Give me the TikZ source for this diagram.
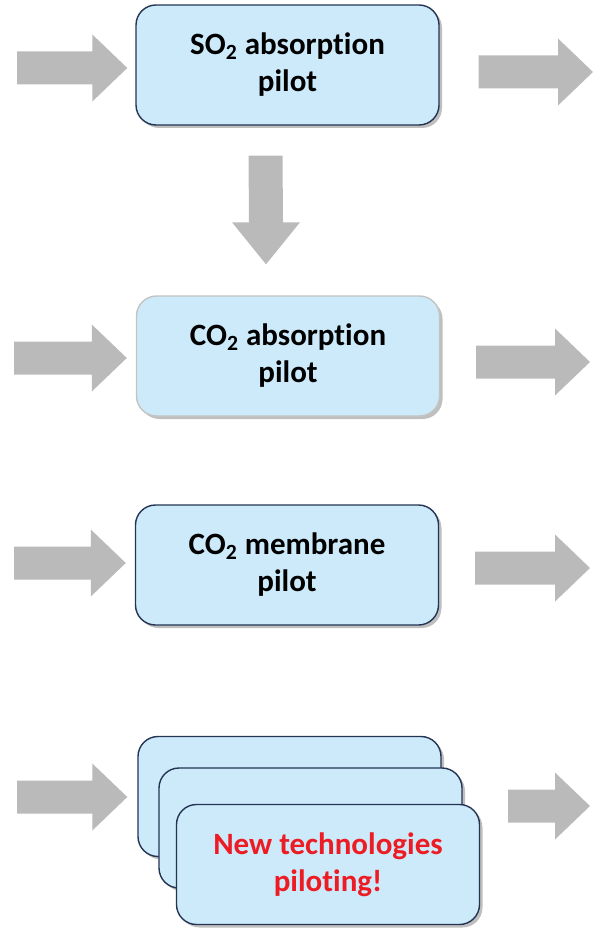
\documentclass[tikz,border=0pt]{standalone}
\usepackage{fontspec}
\setmainfont{Carlito}[Ligatures=NoCommon]
\usetikzlibrary{positioning,shadows}
\definecolor{boxfill}{RGB}{204,234,249}
\definecolor{boxline}{RGB}{36,52,82}
\definecolor{paleline}{RGB}{196,196,196}
\definecolor{arrowgray}{RGB}{186,186,186}
\definecolor{newred}{RGB}{237,28,36}

\begin{document}
\begin{tikzpicture}[
    x=0.5pt, y=-0.5pt,
    pilotbox/.style={rectangle, draw=boxline, line width=0.7pt, fill=boxfill, rounded corners=10pt,
        minimum width=151.5pt, minimum height=60pt, align=center,
        font=\bfseries\fontsize{15.5}{18.5}\selectfont,
        drop shadow={shadow xshift=1.5pt, shadow yshift=-1.5pt, fill=black, opacity=0.25}},
    % block arrows as one filled outline from tail to tip
    rightblock/.style={fill=arrowgray, to path={
        ([yshift=8.25pt]\tikztostart) -- ([xshift=-17.5pt, yshift=8.25pt]\tikztotarget)
        -- ([xshift=-17.5pt, yshift=16.75pt]\tikztotarget) -- (\tikztotarget)
        -- ([xshift=-17.5pt, yshift=-16.75pt]\tikztotarget) -- ([xshift=-17.5pt, yshift=-8.25pt]\tikztotarget)
        -- ([yshift=-8.25pt]\tikztostart) -- cycle}},
    downblock/.style={fill=arrowgray, to path={
        ([xshift=-8.5pt]\tikztostart) -- ([xshift=-8.5pt, yshift=21pt]\tikztotarget)
        -- ([xshift=-17pt, yshift=21pt]\tikztotarget) -- (\tikztotarget)
        -- ([xshift=17pt, yshift=21pt]\tikztotarget) -- ([xshift=8.5pt, yshift=21pt]\tikztotarget)
        -- ([xshift=8.5pt]\tikztostart) -- cycle}}
]
\useasboundingbox (0,0) rectangle (597,930);

% Pilot boxes (one column)
\node[pilotbox] (so2) at (287.5,65) {SO\textsubscript{2} absorption\\pilot};
\node[pilotbox, draw=paleline] (co2abs) at (288,356) {CO\textsubscript{2} absorption\\pilot};
\node[pilotbox] (co2mem) at (287,565) {CO\textsubscript{2} membrane\\pilot};

% Stack of new pilots (back to front)
\node[pilotbox] (new0) at (289.5,796.5) {};
\node[pilotbox] (new1) at (310.5,828) {};
\node[pilotbox, text=newred] (new2) at (328,864.5) {New technologies\\piloting!};

% Free ends of the flow arrows
\coordinate (in1) at (17,68);
\coordinate (out1) at (593,72);
\coordinate (in2) at (14,358);
\coordinate (out2) at (590,362);
\coordinate (in3) at (14,563);
\coordinate (out3) at (590,568);
\coordinate (in4) at (17,797);
\coordinate (out4) at (590,806);

% Ends next to the boxes
\coordinate (so2in) at ([xshift=-4pt]so2.west |- in1);
\coordinate (so2out) at ([xshift=19.5pt]so2.east |- out1);
\coordinate (co2absin) at ([xshift=-4.5pt]co2abs.west |- in2);
\coordinate (co2absout) at ([xshift=18pt]co2abs.east |- out2);
\coordinate (co2memin) at ([xshift=-4.5pt]co2mem.west |- in3);
\coordinate (co2memout) at ([xshift=18pt]co2mem.east |- out3);
\coordinate (newin) at ([xshift=-5pt]new0.west |- in4);
\coordinate (newout) at ([xshift=14pt]new2.east |- out4);
\coordinate (feedtop) at ([xshift=-11pt, yshift=-15pt]so2.south);
\coordinate (feedtip) at ([xshift=-11pt, yshift=15.5pt]co2abs.north);

% Flows in and out of each pilot
\fill[rightblock] (in1) to (so2in);
\fill[rightblock] (so2out) to (out1);
\fill[rightblock] (in2) to (co2absin);
\fill[rightblock] (co2absout) to (out2);
\fill[rightblock] (in3) to (co2memin);
\fill[rightblock] (co2memout) to (out3);
\fill[rightblock] (in4) to (newin);
\fill[rightblock] (newout) to (out4);

% SO2 pilot feeds the CO2 absorption pilot
\fill[downblock] (feedtop) to (feedtip);

\end{tikzpicture}
\end{document}
